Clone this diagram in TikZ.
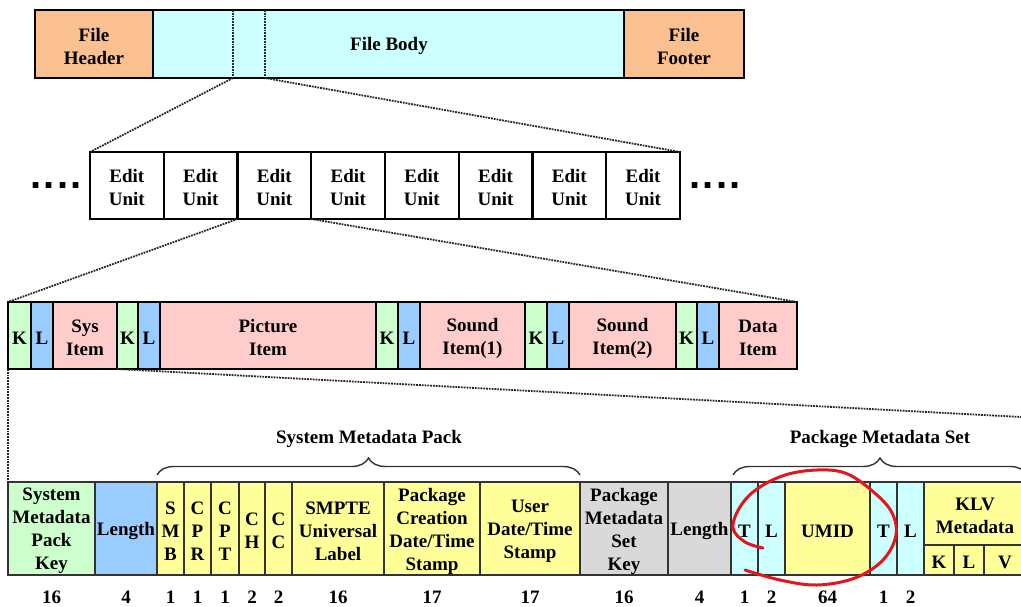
\documentclass[tikz,border=0pt]{standalone}
\usepackage{fontspec}
\setmainfont{Liberation Serif}
\newfontfamily\dotfont{Liberation Sans}
\usetikzlibrary{decorations.pathreplacing,calc}
\definecolor{cPeach}{RGB}{250,192,144}
\definecolor{cCyan}{RGB}{204,255,255}
\definecolor{cGreen}{RGB}{204,255,204}
\definecolor{cBlue}{RGB}{153,204,255}
\definecolor{cPink}{RGB}{255,204,204}
\definecolor{cYellow}{RGB}{255,255,153}
\definecolor{cGray}{RGB}{217,217,217}
\definecolor{cRed}{RGB}{230,20,28}
\newcommand\seg[7]{%
  \node[#6, minimum width={(#3-#2)*1pt}, minimum height={(#5-#4)*1pt}, anchor=north west] (#1) at (#2,#4) {};
  \node[yshift=-2.5pt] (#1-t) at (#1.center) {#7};}
\tikzset{
  every node/.style={font=\bfseries\fontsize{19}{23}\selectfont, inner sep=0pt, outer sep=0pt, align=center},
  bigbox/.style={draw=black, line width=2.2pt},
  smallbox/.style={draw=black!80, line width=1.2pt},
  dotline/.style={densely dotted, line width=1.8pt, black!85},
  numlbl/.style={anchor=center},
  grp/.style={decorate, decoration={brace, amplitude=17pt, aspect=0.5}, line width=1.4pt, black!80},
  dotsnode/.style={font=\dotfont\bfseries\fontsize{40}{40}\selectfont, anchor=base},
}
\begin{document}
\begin{tikzpicture}[x=1pt, y=-1pt]
\useasboundingbox (0,0) rectangle (1021,607);
% ---- file level
\seg{hdr}{35}{153}{10}{78}{bigbox, fill=cPeach}{File\\Header}
\seg{body}{153}{624}{10}{78}{bigbox, fill=cCyan}{}
\seg{ftr}{624}{744}{10}{78}{bigbox, fill=cPeach}{File\\Footer}
\node (bodytxt) at (389,46) {File Body};
\coordinate (va1) at (233,10); \coordinate (vb1) at (233,78);
\coordinate (va2) at (265,10); \coordinate (vb2) at (265,78);
\draw[dotline] (va1) -- (vb1);
\draw[dotline] (va2) -- (vb2);
% ---- edit units
\foreach \i in {1,...,8} {
  \pgfmathsetmacro\xa{90+(\i-1)*73.75}
  \pgfmathsetmacro\xb{90+\i*73.75}
  \seg{eu\i}{\xa}{\xb}{152}{219}{bigbox, fill=white}{Edit\\Unit}
}
\node[dotsnode] (dl) at (56,189) {.\kern2pt.\kern2pt.\kern2pt.};
\node[dotsnode] (dr) at (715,189) {.\kern2pt.\kern2pt.\kern2pt.};
\draw[dotline] (vb1) -- (eu1.north west);
\draw[dotline] (vb2) -- (eu8.north east);
% ---- items
\seg{k1}{8}{31}{302}{369}{bigbox, fill=cGreen}{K}
\seg{l1}{31}{53}{302}{369}{bigbox, fill=cBlue}{L}
\seg{sys}{53}{117}{302}{369}{bigbox, fill=cPink}{Sys\\Item}
\seg{k2}{117}{138}{302}{369}{bigbox, fill=cGreen}{K}
\seg{l2}{138}{160}{302}{369}{bigbox, fill=cBlue}{L}
\seg{pic}{160}{376}{302}{369}{bigbox, fill=cPink}{Picture\\Item}
\seg{k3}{376}{398}{302}{369}{bigbox, fill=cGreen}{K}
\seg{l3}{398}{420}{302}{369}{bigbox, fill=cBlue}{L}
\seg{snd1}{420}{525}{302}{369}{bigbox, fill=cPink}{Sound\\Item(1)}
\seg{k4}{525}{547}{302}{369}{bigbox, fill=cGreen}{K}
\seg{l4}{547}{569}{302}{369}{bigbox, fill=cBlue}{L}
\seg{snd2}{569}{676}{302}{369}{bigbox, fill=cPink}{Sound\\Item(2)}
\seg{k5}{676}{697}{302}{369}{bigbox, fill=cGreen}{K}
\seg{l5}{697}{719}{302}{369}{bigbox, fill=cBlue}{L}
\seg{data}{719}{797}{302}{369}{bigbox, fill=cPink}{Data\\Item}
\draw[dotline] (eu3.south west) -- (k1.north west);
\draw[dotline] (eu3.south east) -- (data.north east);
% ---- system item detail
\seg{smpk}{8}{95}{482}{575}{smallbox, fill=cGreen}{System\\Metadata\\Pack\\Key}
\seg{len1}{95}{157}{482}{575}{smallbox, fill=cBlue}{Length}
\seg{smb}{157}{184}{482}{575}{smallbox, fill=cYellow}{S\\M\\B}
\seg{cpr}{184}{211}{482}{575}{smallbox, fill=cYellow}{C\\P\\R}
\seg{cpt}{211}{239}{482}{575}{smallbox, fill=cYellow}{C\\P\\T}
\seg{ch}{239}{265}{482}{575}{smallbox, fill=cYellow}{C\\H}
\seg{cc}{265}{292}{482}{575}{smallbox, fill=cYellow}{C\\C}
\seg{ul}{292}{384}{482}{575}{smallbox, fill=cYellow}{SMPTE\\Universal\\Label}
\seg{pcd}{384}{480}{482}{575}{smallbox, fill=cYellow}{Package\\Creation\\Date/Time\\Stamp}
\seg{ud}{480}{580}{482}{575}{smallbox, fill=cYellow}{User\\Date/Time\\Stamp}
\seg{pmk}{580}{668}{482}{575}{smallbox, fill=cGray}{Package\\Metadata\\Set\\Key}
\seg{len2}{668}{731}{482}{575}{smallbox, fill=cGray}{Length}
\seg{t1}{731}{758}{482}{575}{smallbox, fill=cCyan}{T}
\seg{ll1}{758}{785}{482}{575}{smallbox, fill=cCyan}{L}
\seg{umid}{785}{870}{482}{575}{smallbox, fill=cYellow}{UMID}
\seg{t2}{870}{897}{482}{575}{smallbox, fill=cCyan}{T}
\seg{ll2}{897}{924}{482}{575}{smallbox, fill=cCyan}{L}
\seg{klv}{924}{1026}{482}{545}{smallbox, fill=cYellow}{KLV\\Metadata}
\seg{kk}{924}{954}{545}{575}{smallbox, fill=cYellow}{K}
\seg{kl}{954}{984}{545}{575}{smallbox, fill=cYellow}{L}
\seg{kv}{984}{1026}{545}{575}{smallbox, fill=cYellow}{V}
\draw[dotline] (k1.south west) -- (smpk.north west);
\coordinate (rend) at (1021,417);
\draw[dotline] (k2.south west) -- (rend);
% ---- sizes
\foreach \n/\v in {smpk/16, len1/4, smb/1, cpr/1, cpt/1, ch/2, cc/2, ul/16, pcd/17, ud/17, pmk/16, len2/4, t1/1, ll1/2, umid/64, t2/1, ll2/2}
  \node[numlbl] (num-\n) at (\n.south |- 0,597) {\v};
% ---- braces
\coordinate (b1a) at (157,475); \coordinate (b1b) at (580,475);
\draw[grp] (b1a) -- (b1b);
\node (smp) at (369,439) {System Metadata Pack};
\coordinate (b2a) at (733,475); \coordinate (b2b) at (1027,475);
\draw[grp] (b2a) -- (b2b);
\node (pms) at (880,439) {Package Metadata Set};
% ---- red mark
\draw[cRed, line width=3pt, line cap=round] plot[smooth, tension=0.6] coordinates {(763,548) (745,542) (733,528) (740,507) (757,489) (785,475) (817,470) (845,473) (870,489) (891,511) (896,535) (883,560) (855,578) (817,585) (780,580) (745,570)};
\end{tikzpicture}
\end{document}
